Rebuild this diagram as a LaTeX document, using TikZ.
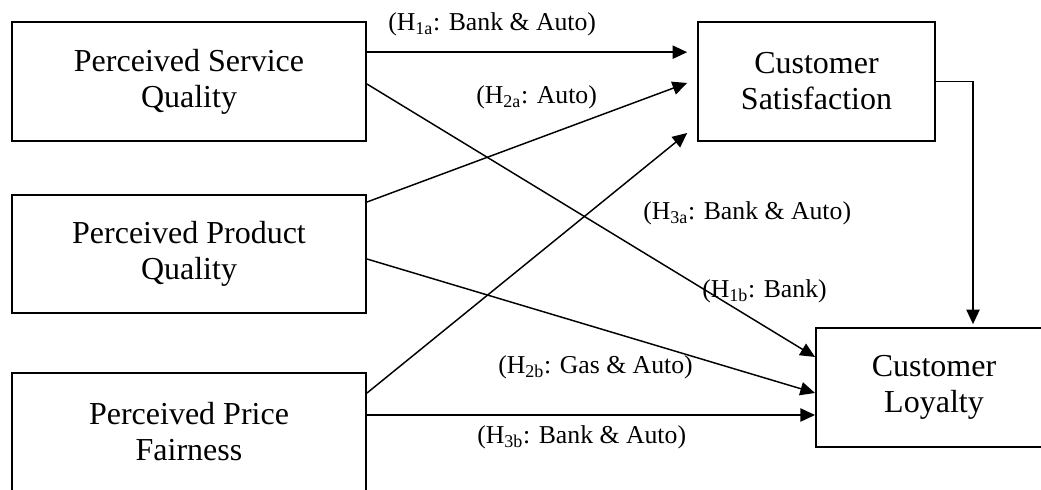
\documentclass[tikz,border=0pt]{standalone}
\usepackage{fontspec}
\setmainfont{Liberation Serif}
\usetikzlibrary{arrows.meta}

\begin{document}
\begin{tikzpicture}[x=0.75pt,y=-0.75pt]
\tikzstyle{var}=[draw,line width=1.5pt,minimum width=265.5pt,minimum height=89pt,align=center,font=\fontsize{24}{27}\selectfont];
\tikzstyle{hyp}=[anchor=base west,inner sep=0pt,font=\fontsize{19.3}{23}\selectfont];
\tikzstyle{link}=[-{Triangle[length=11pt,width=10pt]},line width=1.1pt];
\useasboundingbox (0,0) rectangle (1041,489);
\fill [white] (0,0) rectangle (1041,489);
\clip (0,0) rectangle (1041,489);

\node [var] (psq) at (189,81.5) {Perceived Service\\Quality};
\node [var] (ppq) at (189,254) {Perceived Product\\Quality};
\node [var] (ppf) at (189,432) {Perceived Price\\Fairness};
\node [var,minimum width=177.5pt] (cs) at (816.5,81.5) {Customer\\Satisfaction};
\node [var,minimum width=177pt] (cl) at (934,387.5) {Customer\\Loyalty};

% hypothesised paths
\draw [link,shorten >=7.5pt] ([yshift=22pt]psq.east) -- ([yshift=22pt]psq.east -| cs.west);
\draw [link] ([yshift=39pt]ppq.east) -- ([xshift=-7.5pt,yshift=-1.1pt]cs.west);
\draw [link] ([yshift=29.25pt]ppf.east) -- ([xshift=-7.5pt,yshift=-38.6pt]cs.west);
\draw [link] ([yshift=-1.9pt]psq.east) -- ([yshift=22.9pt]cl.west);
\draw [link] ([yshift=-3.75pt]ppq.east) -- ([yshift=-4.1pt]cl.west);
\draw [link] ([yshift=12.75pt]ppf.east) -- ([yshift=12.75pt]ppf.east -| cl.west);
\draw [link] (cs.east) -| ([xshift=29.25pt,yshift=2.25pt]cl.north);

\node [hyp] (h1a) at (388,30) {(H\textsubscript{1a}: Bank \& Auto)};
\node [hyp] (h2a) at (476,103) {(H\textsubscript{2a}: Auto)};
\node [hyp] (h3a) at (643,219) {(H\textsubscript{3a}: Bank \& Auto)};
\node [hyp] (h1b) at (702,297) {(H\textsubscript{1b}: Bank)};
\node [hyp] (h2b) at (498,373) {(H\textsubscript{2b}: Gas \& Auto)};
\node [hyp] (h3b) at (477,443) {(H\textsubscript{3b}: Bank \& Auto)};
\end{tikzpicture}
\end{document}
